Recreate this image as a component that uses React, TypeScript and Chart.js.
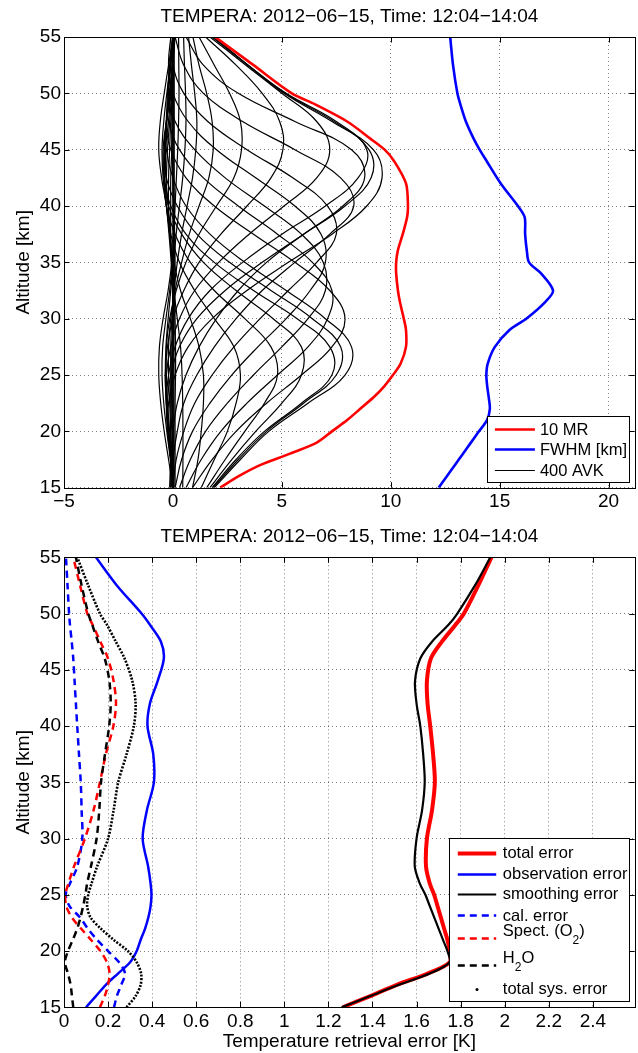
import React, { useEffect, useRef } from 'react';
import { Chart, registerables } from 'chart.js';

Chart.register(...registerables);

const FONT = "'Liberation Sans', Arial, Helvetica, sans-serif";
Chart.defaults.font.family = FONT;
Chart.defaults.color = '#000';

// ---------- shared text ----------
const TITLE = 'TEMPERA: 2012\u221206\u221215, Time: 12:04\u221214:04';
const Y_LABEL = 'Altitude [km]';
const X_LABEL_BOTTOM = 'Temperature retrieval error [K]';

// ---------- ticks ----------
const Y_TICKS = [15, 20, 25, 30, 35, 40, 45, 50, 55];
const TOP_X_TICKS = [-5, 0, 5, 10, 15, 20];
const BOTTOM_X_TICKS = [0, 0.2, 0.4, 0.6, 0.8, 1, 1.2, 1.4, 1.6, 1.8, 2, 2.2, 2.4];

// ---------- top panel: resolution ----------
const ALT_RES = [15, 16, 17, 18, 19, 20, 21, 22, 23, 24, 25, 26, 27.5, 29, 30, 31.5, 32.5, 34, 35, 36, 37.5, 39, 40, 42, 44, 45, 46, 47.5, 49, 50, 52.5, 55];
const MR_X10 = [2.17, 3.0, 4.0, 5.35, 6.6, 7.3, 8.0, 8.6, 9.2, 9.7, 10.1, 10.45, 10.7, 10.7, 10.6, 10.42, 10.33, 10.25, 10.25, 10.32, 10.55, 10.75, 10.79, 10.7, 10.15, 9.72, 9.05, 8.0, 6.55, 5.46, 3.7, 1.94];
const FWHM_KM = [12.2, 12.57, 12.94, 13.31, 13.68, 14.05, 14.42, 14.55, 14.5, 14.43, 14.39, 14.45, 14.78, 15.45, 16.22, 17.1, 17.45, 16.91, 16.35, 16.25, 16.17, 16.15, 15.84, 15.05, 14.4, 14.08, 13.8, 13.45, 13.2, 13.06, 12.86, 12.73];

// averaging kernels x400, sampled at AVK_ALT
const AVK_ALT = [15, 17.5, 20, 22.5, 25, 27.5, 30, 32.5, 35, 37.5, 40, 42.5, 45, 47.5, 50, 52.5, 55];
const AVK_ROWS: number[][] = [
  [1.9, 3.1, 4.4, 6.2, 7.9, 8.2, 7.0, 5.2, 3.3, 1.7, 0.6, 0.0, -0.3, -0.3, -0.15, 0.0, 0.05],
  [1.85, 3.0, 4.3, 6.0, 7.5, 7.7, 6.4, 4.5, 2.6, 1.1, 0.2, -0.3, -0.4, -0.3, -0.15, 0.0, 0.05],
  [1.8, 2.9, 4.2, 5.9, 7.3, 7.2, 5.7, 3.7, 1.9, 0.6, -0.1, -0.4, -0.45, -0.3, -0.1, 0.0, 0.0],
  [1.7, 2.7, 3.8, 5.0, 5.9, 5.9, 4.6, 2.9, 1.4, 0.4, -0.2, -0.4, -0.4, -0.3, -0.1, 0.0, 0.0],
  [1.55, 2.4, 3.3, 4.2, 4.8, 4.5, 3.3, 1.9, 0.8, 0.1, -0.3, -0.4, -0.35, -0.2, -0.1, 0.0, 0.0],
  [1.3, 1.9, 2.5, 2.9, 3.1, 2.8, 1.9, 1.0, 0.3, -0.1, -0.3, -0.3, -0.25, -0.15, -0.05, 0.0, 0.0],
  [0.9, 1.15, 1.3, 1.4, 1.4, 1.2, 0.8, 0.35, 0.05, -0.15, -0.2, -0.2, -0.15, -0.1, 0.0, 0.0, 0.0],
  [0.45, 0.46, 0.46, 0.45, 0.42, 0.35, 0.2, 0.05, -0.05, -0.1, -0.1, -0.1, -0.05, 0.0, 0.0, 0.0, 0.0],
  [0.9, 1.8, 2.9, 4.3, 5.9, 7.3, 7.9, 7.2, 5.6, 3.7, 1.9, 0.6, -0.1, -0.3, -0.2, -0.1, 0.0],
  [0.6, 1.3, 2.2, 3.4, 4.8, 6.2, 7.1, 7.3, 6.4, 4.8, 3.0, 1.4, 0.3, -0.2, -0.25, -0.1, 0.0],
  [0.3, 0.8, 1.5, 2.5, 3.7, 5.0, 6.2, 7.0, 6.9, 5.9, 4.2, 2.4, 1.0, 0.1, -0.2, -0.15, 0.0],
  [0.1, 0.4, 0.9, 1.7, 2.7, 3.9, 5.2, 6.3, 7.0, 6.8, 5.6, 3.8, 2.0, 0.7, 0.0, -0.2, -0.1],
  [0.0, 0.15, 0.5, 1.0, 1.8, 2.8, 4.0, 5.3, 6.6, 7.5, 7.1, 5.5, 3.4, 1.6, 0.5, 0.0, -0.1],
  [-0.1, 0.0, 0.2, 0.5, 1.1, 1.9, 2.9, 4.1, 5.6, 7.2, 8.3, 7.7, 5.6, 3.2, 1.4, 0.5, 0.1],
  [-0.15, -0.1, 0.0, 0.2, 0.6, 1.2, 2.0, 3.0, 4.3, 6.0, 7.8, 8.8, 8.2, 5.6, 3.0, 1.4, 0.6],
  [0.0, -0.1, -0.2, -0.2, 0.1, 0.7, 1.8, 3.4, 5.3, 7.3, 8.9, 9.6, 9.2, 7.3, 5.1, 3.45, 1.9],
  [0.0, -0.1, -0.2, -0.25, -0.1, 0.3, 1.1, 2.4, 4.1, 6.0, 7.9, 9.1, 9.0, 7.4, 5.15, 3.45, 1.85],
  [0.0, -0.1, -0.25, -0.3, -0.2, 0.1, 0.7, 1.7, 3.2, 5.0, 7.0, 8.5, 8.9, 7.5, 5.2, 3.45, 1.8],
  [0.0, -0.1, -0.2, -0.3, -0.3, -0.1, 0.3, 1.0, 2.1, 3.5, 5.1, 6.6, 7.2, 6.6, 5.0, 3.35, 1.7],
  [0.0, -0.1, -0.2, -0.3, -0.35, -0.25, 0.0, 0.5, 1.2, 2.2, 3.4, 4.5, 5.05, 4.9, 4.1, 2.9, 1.5],
  [0.0, -0.1, -0.15, -0.25, -0.3, -0.3, -0.15, 0.15, 0.6, 1.2, 2.0, 2.8, 3.15, 3.1, 2.6, 1.9, 1.2],
  [0.0, -0.05, -0.1, -0.15, -0.2, -0.2, -0.1, 0.1, 0.4, 0.75, 1.2, 1.65, 1.85, 1.8, 1.55, 1.2, 0.92],
  [0.0, 0.0, -0.05, -0.1, -0.1, -0.1, -0.05, 0.05, 0.2, 0.4, 0.65, 0.9, 1.05, 1.1, 1.0, 0.85, 0.72],
  [0.0, 0.0, 0.0, -0.05, -0.05, -0.05, 0.0, 0.02, 0.05, 0.15, 0.3, 0.45, 0.55, 0.6, 0.58, 0.53, 0.49],
  [0.0, 0.0, 0.0, 0.0, 0.0, 0.0, 0.0, 0.0, 0.02, 0.05, 0.1, 0.16, 0.22, 0.26, 0.28, 0.27, 0.26],
  [0.05, 0.05, 0.05, 0.05, 0.05, 0.05, 0.05, 0.0, -0.05, -0.15, -0.3, -0.52, -0.65, -0.58, -0.4, -0.2, 0.0],
  [0.0, 0.0, 0.0, 0.0, 0.0, 0.0, 0.0, -0.02, -0.08, -0.18, -0.3, -0.45, -0.5, -0.42, -0.28, -0.12, 0.02],
  [0.0, 0.0, 0.0, 0.0, 0.0, 0.0, 0.0, 0.0, -0.05, -0.12, -0.22, -0.32, -0.34, -0.27, -0.15, -0.05, 0.05],
  [0.0, -0.2, -0.4, -0.56, -0.65, -0.62, -0.45, -0.22, -0.05, 0.05, 0.05, 0.05, 0.05, 0.05, 0.05, 0.05, 0.05],
  [0.0, -0.12, -0.28, -0.42, -0.5, -0.47, -0.32, -0.15, -0.03, 0.02, 0.02, 0.0, 0.0, 0.0, 0.0, 0.0, 0.0],
  [-0.05, -0.1, -0.2, -0.3, -0.35, -0.32, -0.22, -0.1, 0.0, 0.0, 0.0, 0.0, 0.0, 0.0, 0.0, 0.0, 0.0],
  [0.1, 0.1, 0.1, 0.1, 0.12, 0.12, 0.1, 0.08, 0.05, 0.05, 0.05, 0.05, 0.05, 0.05, 0.05, 0.05, 0.05],
  [-0.1, -0.1, -0.1, -0.08, -0.05, 0.0, 0.05, 0.08, 0.1, 0.08, 0.05, 0.0, -0.05, -0.05, -0.05, 0.0, 0.1],
];

// ---------- bottom panel: errors ----------
const ALT_ERR = [15, 16, 17, 18, 19, 20, 21, 22, 23, 24, 25, 26, 27.5, 30, 32.5, 35, 37.5, 40, 42, 44, 46, 47.5, 49, 50, 52.5, 55];
const TOTAL_ERR = [1.265, 1.39, 1.51, 1.65, 1.75, 1.75, 1.74, 1.725, 1.71, 1.695, 1.68, 1.66, 1.643, 1.647, 1.67, 1.683, 1.675, 1.662, 1.65, 1.647, 1.665, 1.715, 1.777, 1.815, 1.88, 1.94];
const OBS_ERR = [0.1, 0.145, 0.19, 0.245, 0.3, 0.33, 0.348, 0.368, 0.383, 0.393, 0.397, 0.393, 0.382, 0.357, 0.376, 0.408, 0.405, 0.379, 0.39, 0.425, 0.453, 0.44, 0.39, 0.352, 0.24, 0.145];
const SMOOTH_ERR = [1.26, 1.39, 1.52, 1.66, 1.75, 1.74, 1.72, 1.7, 1.68, 1.66, 1.64, 1.615, 1.592, 1.6, 1.625, 1.637, 1.63, 1.617, 1.6, 1.593, 1.617, 1.67, 1.745, 1.785, 1.865, 1.935];
const CAL_ERR = [0.227, 0.24, 0.26, 0.277, 0.25, 0.2, 0.15, 0.108, 0.072, 0.025, 0.008, 0.027, 0.06, 0.083, 0.08, 0.076, 0.068, 0.06, 0.054, 0.048, 0.042, 0.035, 0.027, 0.023, 0.016, 0.009];
const SPECT_ERR = [0.163, 0.185, 0.2, 0.207, 0.195, 0.165, 0.122, 0.077, 0.035, 0.01, 0.006, 0.02, 0.045, 0.095, 0.134, 0.163, 0.19, 0.224, 0.236, 0.225, 0.2, 0.165, 0.13, 0.106, 0.073, 0.042];
const H2O_ERR = [0.042, 0.036, 0.03, 0.018, 0.004, 0.018, 0.04, 0.06, 0.075, 0.087, 0.097, 0.105, 0.122, 0.148, 0.16, 0.168, 0.186, 0.205, 0.212, 0.206, 0.185, 0.155, 0.128, 0.11, 0.08, 0.054];
const SYS_ERR = [0.284, 0.325, 0.348, 0.35, 0.33, 0.29, 0.225, 0.167, 0.12, 0.105, 0.11, 0.125, 0.15, 0.2, 0.225, 0.246, 0.284, 0.317, 0.325, 0.31, 0.275, 0.235, 0.195, 0.163, 0.11, 0.06];

// ---------- helpers ----------
const pairs = (xs: number[], ys: number[]) => xs.map((x, i) => ({ x, y: ys[i] }));
const fmtSigned = (v: number) => (v < 0 ? '\u2212' + Math.abs(v) : String(v));
const fmtDec = (v: number) => String(Math.round(v * 10) / 10);
const GRID_COLOR = 'rgba(0,0,0,0.5)';

type LegendItem = { ds: number; y: number; ty: number; label: string; dot?: boolean };
type LegendSpec = {
  right: number; bottom: number; width: number; height: number;
  lineX0: number; lineX1: number; textX: number; fontSize: number;
  items: LegendItem[];
};

function drawRichText(ctx: CanvasRenderingContext2D, text: string, x: number, y: number, size: number) {
  // "_d" marks a subscript character
  const parts: { t: string; sub: boolean }[] = [];
  let buf = '';
  for (let i = 0; i < text.length; i++) {
    if (text[i] === '_' && i + 1 < text.length) {
      if (buf) parts.push({ t: buf, sub: false });
      buf = '';
      parts.push({ t: text[i + 1], sub: true });
      i++;
    } else buf += text[i];
  }
  if (buf) parts.push({ t: buf, sub: false });
  let cx = x;
  for (const p of parts) {
    const fs = p.sub ? size * 0.73 : size;
    ctx.font = `${fs}px ${FONT}`;
    ctx.fillText(p.t, cx, p.sub ? y + size * 0.6 : y);
    cx += ctx.measureText(p.t).width;
  }
}

function makeFramePlugin(legend: LegendSpec) {
  return {
    id: 'matlabFrame',
    afterDatasetsDraw(chart: any) {
      const { ctx, chartArea: a } = chart;
      const xs = chart.scales.x;
      const ys = chart.scales.y;
      const L = 5.5;
      ctx.save();
      ctx.strokeStyle = '#000';
      ctx.lineWidth = 1;
      ctx.setLineDash([]);
      ctx.beginPath();
      xs.ticks.forEach((t: any) => {
        const px = Math.round(xs.getPixelForValue(t.value)) + 0.5;
        ctx.moveTo(px, a.bottom); ctx.lineTo(px, a.bottom - L);
        ctx.moveTo(px, a.top); ctx.lineTo(px, a.top + L);
      });
      ys.ticks.forEach((t: any) => {
        const py = Math.round(ys.getPixelForValue(t.value)) + 0.5;
        ctx.moveTo(a.left, py); ctx.lineTo(a.left + L, py);
        ctx.moveTo(a.right, py); ctx.lineTo(a.right - L, py);
      });
      ctx.stroke();
      const l = Math.round(a.left) + 0.5, t = Math.round(a.top) + 0.5;
      const r = Math.round(a.right) + 0.5, b = Math.round(a.bottom) + 0.5;
      ctx.strokeRect(l, t, r - l, b - t);

      // legend
      const bx = Math.round(a.right - legend.right - legend.width) + 0.5;
      const by = Math.round(a.bottom - legend.bottom - legend.height) + 0.5;
      const bw = Math.round(legend.width), bh = Math.round(legend.height);
      ctx.fillStyle = '#fff';
      ctx.fillRect(bx, by, bw, bh);
      ctx.strokeStyle = '#000';
      ctx.lineWidth = 1;
      ctx.strokeRect(bx, by, bw, bh);
      ctx.textAlign = 'left';
      ctx.textBaseline = 'middle';
      for (const it of legend.items) {
        const ds = chart.data.datasets[it.ds];
        const ly = Math.floor(by + it.y) + 0.5;
        if (it.dot) {
          ctx.fillStyle = '#000';
          ctx.beginPath();
          ctx.arc(bx + (legend.lineX0 + legend.lineX1) / 2, ly, 1.5, 0, Math.PI * 2);
          ctx.fill();
        } else {
          ctx.strokeStyle = ds.borderColor;
          ctx.lineWidth = ds.borderWidth < 2 ? 1 : ds.borderWidth;
          ctx.setLineDash(ds.borderDash || []);
          ctx.lineCap = 'butt';
          ctx.beginPath();
          ctx.moveTo(bx + legend.lineX0, ly);
          ctx.lineTo(bx + legend.lineX1, ly);
          ctx.stroke();
          ctx.setLineDash([]);
        }
        ctx.fillStyle = '#000';
        drawRichText(ctx, it.label, bx + legend.textX, by + it.ty, legend.fontSize);
      }
      ctx.restore();
    },
  };
}

const tickFont = { family: FONT, size: 19, lineHeight: 1.2 };

function yScale() {
  return {
    type: 'linear',
    min: 15,
    max: 55,
    afterBuildTicks: (s: any) => { s.ticks = Y_TICKS.map((v) => ({ value: v })); },
    afterFit: (s: any) => { s.width = 64; },
    grid: { color: GRID_COLOR, lineWidth: 1, drawTicks: false },
    border: { display: false, dash: [1, 3] },
    ticks: { color: '#000', font: tickFont, padding: 3, autoSkip: false, callback: (v: any) => String(v) },
    title: { display: true, text: Y_LABEL, color: '#000', font: { family: FONT, size: 19, lineHeight: 1.2 }, padding: { top: 12.6, bottom: 0 } },
  };
}

function baseOptions(titlePadBottom: number) {
  return {
    animation: false,
    responsive: false,
    maintainAspectRatio: false,
    events: [],
    layout: { padding: { top: 0, left: 0, right: 3.3, bottom: 0 } },
    plugins: {
      legend: { display: false },
      tooltip: { enabled: false },
      title: {
        display: true,
        fullSize: false,
        text: TITLE,
        color: '#000',
        font: { family: FONT, size: 19, weight: 'normal', lineHeight: 1.2 },
        padding: { top: 5, bottom: titlePadBottom },
      },
    },
  };
}

function makeTopConfig(): any {
  const datasets: any[] = [
    { label: '10 MR', data: pairs(MR_X10, ALT_RES), borderColor: '#ff0000', borderWidth: 2.6, tension: 0.3 },
    { label: 'FWHM [km]', data: pairs(FWHM_KM, ALT_RES), borderColor: '#0000ff', borderWidth: 2.6, tension: 0.3 },
    ...AVK_ROWS.map((row, i) => ({
      label: i === 0 ? '400 AVK' : 'AVK',
      data: pairs(row, AVK_ALT),
      borderColor: '#000',
      borderWidth: 1.2,
      tension: 0.4,
    })),
  ].map((d) => ({ ...d, showLine: true, pointRadius: 0, fill: false, borderJoinStyle: 'round' }));

  const legend: LegendSpec = {
    right: 5, bottom: 6, width: 142.4, height: 65.7,
    lineX0: 7.4, lineX1: 47.4, textX: 52.4, fontSize: 16.5,
    items: [
      { ds: 0, y: 12.8, ty: 13.8, label: '10 MR' },
      { ds: 1, y: 33.2, ty: 33.6, label: 'FWHM [km]' },
      { ds: 2, y: 53.5, ty: 54.5, label: '400 AVK' },
    ],
  };

  const opts: any = baseOptions(9.2);
  opts.scales = {
    x: {
      type: 'linear',
      min: -5,
      max: 21.2,
      afterBuildTicks: (s: any) => { s.ticks = TOP_X_TICKS.map((v) => ({ value: v })); },
      afterFit: (s: any) => { s.height = 32.3; },
      grid: { color: GRID_COLOR, lineWidth: 1, drawTicks: false },
      border: { display: false, dash: [1, 3] },
      ticks: { color: '#000', font: tickFont, padding: 3, maxRotation: 0, autoSkip: false, callback: (v: any) => fmtSigned(Number(v)) },
    },
    y: yScale(),
  };
  return { type: 'scatter', data: { datasets }, options: opts, plugins: [makeFramePlugin(legend)] };
}

function makeBottomConfig(): any {
  const raw: any[] = [
    { label: 'total error', data: pairs(TOTAL_ERR, ALT_ERR), borderColor: '#ff0000', borderWidth: 4 },
    { label: 'observation error', data: pairs(OBS_ERR, ALT_ERR), borderColor: '#0000ff', borderWidth: 2.5 },
    { label: 'smoothing error', data: pairs(SMOOTH_ERR, ALT_ERR), borderColor: '#000000', borderWidth: 2.2 },
    { label: 'cal. error', data: pairs(CAL_ERR, ALT_ERR), borderColor: '#0000ff', borderWidth: 2.5, borderDash: [7, 5] },
    { label: 'Spect. (O_2)', data: pairs(SPECT_ERR, ALT_ERR), borderColor: '#ff0000', borderWidth: 2.5, borderDash: [7, 5] },
    { label: 'H_2O', data: pairs(H2O_ERR, ALT_ERR), borderColor: '#000000', borderWidth: 2.5, borderDash: [7, 5] },
    { label: 'total sys. error', data: pairs(SYS_ERR, ALT_ERR), borderColor: '#000000', borderWidth: 2.6, borderDash: [2, 1.5] },
  ];
  const datasets = raw.map((d, i) => ({
    ...d, showLine: true, pointRadius: 0, fill: false, tension: 0.3, order: -i, borderJoinStyle: 'round',
  }));

  const legend: LegendSpec = {
    right: 5.7, bottom: 6.3, width: 180, height: 162.7,
    lineX0: 8.3, lineX1: 46.7, textX: 53.3, fontSize: 16.5,
    items: [
      { ds: 0, y: 15, ty: 15.4, label: 'total error' },
      { ds: 1, y: 36, ty: 36, label: 'observation error' },
      { ds: 2, y: 56, ty: 56.2, label: 'smoothing error' },
      { ds: 3, y: 77.4, ty: 78, label: 'cal. error' },
      { ds: 4, y: 100, ty: 92.7, label: 'Spect. (O_2)' },
      { ds: 5, y: 126.7, ty: 119.5, label: 'H_2O' },
      { ds: 6, y: 150.7, ty: 151, label: 'total sys. error', dot: true },
    ],
  };

  const opts: any = baseOptions(9.5);
  opts.scales = {
    x: {
      type: 'linear',
      min: 0,
      max: 2.59,
      afterBuildTicks: (s: any) => { s.ticks = BOTTOM_X_TICKS.map((v) => ({ value: v })); },
      afterFit: (s: any) => { s.height = 45.7; },
      grid: { color: GRID_COLOR, lineWidth: 1, drawTicks: false },
      border: { display: false, dash: [1, 3] },
      ticks: { color: '#000', font: tickFont, padding: 3, maxRotation: 0, autoSkip: false, callback: (v: any) => fmtDec(Number(v)) },
      title: { display: true, text: X_LABEL_BOTTOM, color: '#000', font: { family: FONT, size: 19, lineHeight: 1.2 }, padding: { top: 0, bottom: 0 } },
    },
    y: yScale(),
  };
  return { type: 'scatter', data: { datasets }, options: opts, plugins: [makeFramePlugin(legend)] };
}

export default function App() {
  const topRef = useRef<HTMLCanvasElement>(null);
  const botRef = useRef<HTMLCanvasElement>(null);
  useEffect(() => {
    const c1 = new Chart(topRef.current as HTMLCanvasElement, makeTopConfig());
    const c2 = new Chart(botRef.current as HTMLCanvasElement, makeBottomConfig());
    return () => {
      c1.destroy();
      c2.destroy();
    };
  }, []);
  return (
    <div style={{ position: 'absolute', left: 0, top: 0, width: 638, height: 1053, background: '#fff' }}>
      <canvas ref={topRef} width={638} height={520} style={{ position: 'absolute', left: 0, top: 0, width: 638, height: 520 }} />
      <canvas ref={botRef} width={638} height={533} style={{ position: 'absolute', left: 0, top: 520, width: 638, height: 533 }} />
    </div>
  );
}
